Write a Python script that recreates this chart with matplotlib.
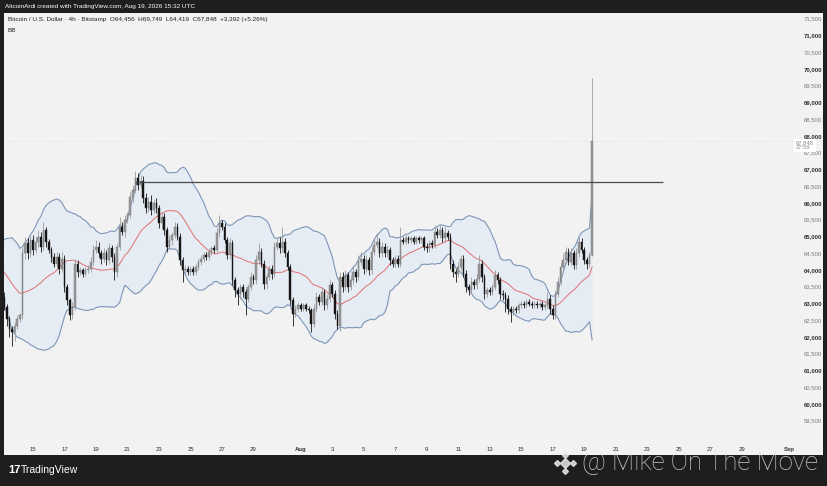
import matplotlib.pyplot as plt
import matplotlib.transforms as mtransforms
import numpy as np
import pandas as pd

# 4h candles, BTC/USD Bitstamp, Jul 13 04:00 -> Aug 19 12:00 (225 candles)
first_open = 63200
closes = [
    62900, 62550, 62250, 62150, 62350, 62550,
    62650, 64500, 64800, 64500, 64900, 64600,
    64850, 65000, 64700, 65200, 64850, 64600,
    64400, 64200, 64400, 64050, 64350, 63500,
    63100, 62650, 62900, 64200, 63950, 64000,
    63900, 64000, 64050, 64250, 64600, 64700,
    64500, 64350, 64500, 64300, 64650, 64400,
    63950, 64700, 65300, 65150, 65500, 65650,
    66200, 66400, 66750, 66550, 66650, 66150,
    65850, 66050, 65800, 66000, 65850, 65400,
    65600, 65200, 64700, 64900, 65050, 65300,
    65000, 64300, 64000, 64050, 63950, 64050,
    63950, 64100, 64250, 64350, 64450, 64400,
    64550, 64650, 64600, 65100, 65400, 65300,
    64900, 64450, 64800, 63700, 63400, 63300,
    63500, 63350, 63150, 63500, 63800, 63700,
    64300, 64550, 64200, 63600, 63800, 64050,
    63900, 64700, 64800, 64650, 64850, 64500,
    64100, 63100, 62700, 62850, 62950, 62850,
    62950, 62850, 62800, 62400, 62850, 63200,
    63050, 63350, 62950, 63150, 63550, 63300,
    62700, 62350, 63800, 63500, 63850, 63500,
    63700, 63950, 63800, 64250, 64350, 64050,
    64300, 64000, 64550, 64750, 64850, 64500,
    64700, 64500, 64600, 64300, 64200, 64350,
    64200, 64900, 64850, 64950, 64900, 64950,
    64850, 64950, 64900, 64950, 64700, 64650,
    64800, 64750, 65150, 65050, 65200, 64950,
    65100, 65000, 64200, 63950, 63900, 64100,
    64350, 63900, 63500, 63400, 63650, 63550,
    63750, 64200, 63800, 63300, 63400, 63350,
    63500, 63850, 63700, 63300, 63250, 63150,
    62850, 62750, 62850, 62800, 62950, 63000,
    62950, 63050, 63000, 62950, 63000, 62950,
    63000, 62900, 62950, 63150, 62850, 62650,
    63300, 63650, 64100, 64300, 64550, 64250,
    64500, 64150, 64500, 64850, 64600, 64300,
    64200, 64456, 67848,
]
# wick length above / below the body, in USD
wick_up = [
    150, 100, 80, 100, 120, 100,
    80, 150, 200, 150, 120, 150,
    150, 200, 150, 250, 100, 80,
    100, 100, 150, 100, 200, 100,
    100, 80, 150, 150, 100, 100,
    80, 100, 100, 150, 150, 200,
    150, 100, 150, 100, 150, 100,
    100, 100, 300, 150, 150, 100,
    150, 150, 200, 150, 200, 150,
    150, 150, 200, 100, 150, 100,
    150, 100, 100, 150, 100, 150,
    100, 100, 100, 100, 80, 80,
    80, 80, 100, 100, 100, 80,
    100, 80, 100, 150, 250, 100,
    100, 100, 150, 100, 100, 100,
    100, 100, 100, 100, 150, 100,
    150, 250, 100, 100, 100, 100,
    100, 150, 150, 200, 450, 100,
    100, 100, 100, 100, 100, 80,
    80, 80, 80, 80, 150, 150,
    100, 150, 100, 150, 150, 100,
    100, 100, 150, 150, 150, 100,
    150, 150, 100, 200, 200, 100,
    150, 100, 150, 200, 250, 100,
    150, 100, 150, 100, 100, 100,
    100, 400, 100, 100, 80, 80,
    80, 80, 80, 80, 80, 100,
    100, 100, 200, 100, 150, 100,
    200, 100, 100, 100, 100, 150,
    100, 100, 100, 100, 150, 100,
    150, 250, 100, 100, 100, 100,
    100, 150, 100, 100, 100, 100,
    100, 80, 80, 80, 80, 80,
    80, 80, 80, 80, 80, 80,
    80, 80, 80, 200, 100, 100,
    100, 150, 150, 200, 150, 100,
    150, 100, 150, 150, 100, 100,
    100, 100, 1901,
]
wick_dn = [
    100, 200, 250, 400, 250, 100,
    100, 100, 150, 150, 100, 150,
    100, 150, 150, 100, 150, 100,
    150, 100, 100, 150, 100, 150,
    150, 150, 100, 100, 150, 100,
    100, 80, 80, 100, 100, 100,
    100, 150, 100, 150, 100, 150,
    250, 150, 100, 100, 150, 100,
    100, 150, 100, 150, 100, 150,
    150, 100, 150, 100, 150, 150,
    150, 150, 150, 100, 150, 100,
    100, 150, 350, 100, 100, 100,
    80, 80, 100, 100, 100, 80,
    100, 100, 100, 100, 100, 100,
    100, 100, 100, 150, 200, 350,
    150, 150, 500, 100, 100, 100,
    100, 100, 100, 150, 150, 100,
    150, 100, 100, 150, 100, 100,
    100, 150, 350, 100, 100, 80,
    80, 80, 80, 250, 100, 100,
    100, 100, 150, 100, 100, 100,
    150, 100, 150, 150, 100, 150,
    100, 100, 150, 100, 100, 150,
    100, 150, 100, 100, 100, 100,
    100, 100, 100, 150, 100, 100,
    100, 100, 80, 80, 80, 80,
    80, 80, 80, 80, 100, 100,
    100, 100, 100, 100, 100, 100,
    100, 100, 150, 150, 250, 100,
    100, 100, 150, 150, 100, 100,
    100, 100, 150, 150, 100, 100,
    100, 100, 100, 150, 150, 400,
    150, 300, 100, 80, 80, 80,
    80, 80, 80, 80, 80, 80,
    80, 80, 80, 80, 150, 100,
    100, 100, 100, 100, 100, 100,
    100, 100, 100, 100, 100, 100,
    150, 100, 37,
]
# closes before the visible window, estimated from where the bands start
warmup_closes = [64500, 64700, 64400, 64600, 64300, 64500, 64200, 64300, 64000, 64100,
                 63800, 63900, 63600, 63700, 63500, 63400, 63600, 63300, 63400]

start_day = 13 + 4 / 24.  # days counted from Jul 0
resistance = 66630
resistance_from, resistance_to = 21.47, 55.0
last_price = 67848
countdown = '27:59'

day_ticks = [15, 17, 19, 21, 23, 25, 27, 29, 32, 34, 36, 38, 40, 42, 44, 46, 48, 50,
             52, 54, 56, 58, 60, 63]
day_labels = ['15', '17', '19', '21', '23', '25', '27', '29', 'Aug', '3', '5', '7', '9',
              '11', '13', '15', '17', '19', '21', '23', '25', '27', '29', 'Sep']
price_ticks = np.arange(59500, 71501, 500)

header = 'AltcoinArdi created with TradingView.com, Aug 19, 2026 15:32 UTC'
title = 'Bitcoin / U.S. Dollar \u00b7 4h \u00b7 Bitstamp  O64,456  H69,749  L64,419  C67,848  +3,392 (+5.26%)'

plt.rcParams['font.family'] = ['Liberation Sans', 'DejaVu Sans']

closes = np.array(closes, dtype=float)
opens = np.concatenate([[first_open], closes[:-1]])
highs = np.maximum(opens, closes) + np.array(wick_up)
lows = np.minimum(opens, closes) - np.array(wick_dn)
t = start_day + np.arange(len(closes)) / 6.

allc = pd.Series(np.concatenate([warmup_closes, closes]))
basis = allc.rolling(20).mean().values[-len(closes):]
dev = allc.rolling(20).std(ddof=0).values[-len(closes):]
upper = basis + 2 * dev
lower = basis - 2 * dev

W, H = 828, 486
fig = plt.figure(figsize=(W / 100, H / 100), dpi=100, facecolor='#1e1e1e')
px0, px1, py0, py1 = 4, 823, 13, 455
ax = fig.add_axes([px0 / W, 1 - py1 / H, (px1 - px0) / W, (py1 - py0) / H])
ax.set_facecolor('#f2f2f2')
for s in ax.spines.values():
    s.set_visible(False)
ax.set_xticks([])
ax.set_yticks([])
ax.set_xlim(13.159, 65.16)
ax.set_ylim(58485, 71679)

# bollinger bands
ax.fill_between(t, lower, upper, color='#e6ecf4', lw=0, zorder=1)
ax.plot(t, upper, color='#7d96b8', lw=0.8, zorder=2)
ax.plot(t, lower, color='#7d96b8', lw=0.8, zorder=2)
ax.plot(t, basis, color='#e07070', lw=0.7, zorder=2)

# candles
up = closes >= opens
cols = np.where(up, '#9c9c9c', '#161616')
ax.vlines(t, lows, highs, colors=cols, lw=0.6, zorder=3)
body_lo = np.minimum(opens, closes)
body_h = np.maximum(np.abs(closes - opens), 25)
ax.bar(t, body_h, bottom=body_lo, width=0.105, color=cols,
       edgecolor=np.where(up, '#6e6e6e', '#161616'), lw=0.3, zorder=4)

# resistance line and last price line
ax.hlines(resistance, resistance_from, resistance_to, color='#4a4a4a', lw=0.9, zorder=5)
ax.axhline(last_price, color='#d4d4d4', lw=0.5, ls=(0, (1, 2)), zorder=0.5)

# price scale
ty = mtransforms.blended_transform_factory(ax.transAxes, ax.transData)
xr = (822 - px0) / (px1 - px0)
for p in price_ticks:
    major = p % 1000 == 0
    ax.text(xr, p, f'{p:,}', transform=ty, ha='right', va='center', fontsize=4.3,
            color='#333333' if major else '#7a7a7a',
            fontweight='bold' if major else 'normal', zorder=6)
ax.text((796 - px0) / (px1 - px0), last_price - 120, f'{last_price:,}\n{countdown}',
        transform=ty, ha='left', va='center', fontsize=4.2, color='#8a8a8a',
        linespacing=1.05, zorder=8,
        bbox=dict(boxstyle='square,pad=0.3', fc='white', ec='none'))

# time scale
tx = mtransforms.blended_transform_factory(ax.transData, ax.transAxes)
for d, lab in zip(day_ticks, day_labels):
    bold = lab in ('Aug', 'Sep')
    ax.text(d, 1 - (449 - py0) / (py1 - py0), lab, transform=tx, ha='center', va='center',
            fontsize=4.3, color='#333333', fontweight='bold' if bold else 'normal')

# legend texts
ax.text(4 / (px1 - px0), 1 - (20 - py0) / (py1 - py0), title,
        transform=ax.transAxes, ha='left', va='center', fontsize=4.6, color='#222222')
ax.text(4 / (px1 - px0), 1 - (30 - py0) / (py1 - py0), 'BB', transform=ax.transAxes,
        ha='left', va='center', fontsize=4.6, color='#222222')

fig.text(5 / W, 1 - 6.5 / H, header, ha='left', va='center', fontsize=4.6, color='white')

# footer
fig.text(8 / W, 1 - 470 / H, '17', ha='left', va='center', fontsize=8, color='white',
         fontweight='bold')
fig.text(21 / W, 1 - 470 / H, 'TradingView', ha='left', va='center', fontsize=7.5,
         color='white')
for dx, dy, sz in [(0, 0, 16), (-8, 0, 9), (8, 0, 9), (0, -8, 9), (0, 8, 9)]:
    fig.lines.append(plt.Line2D([(565 + dx) / W], [1 - (463 + dy) / H], marker='D',
                                markersize=sz / 3, color='#e6e6e6', alpha=0.85,
                                transform=fig.transFigure))
fig.text(582 / W, 1 - 463 / H, '@ Mike On The Move', ha='left', va='center',
         fontsize=18.5, color='#e6e6e6', alpha=0.85, family=['Roboto', 'DejaVu Sans'],
         fontweight='light')

fig.savefig('out.png', dpi=100, facecolor=fig.get_facecolor())
